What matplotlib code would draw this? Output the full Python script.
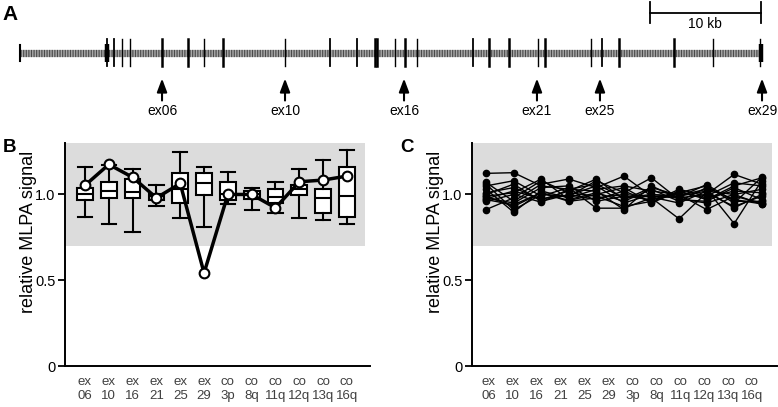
import numpy as np
import matplotlib
matplotlib.use('Agg')
import matplotlib.pyplot as plt

plt.rcParams['font.family'] = ['Liberation Sans', 'DejaVu Sans']

# ---------------- Panel A data (gene structure, kb) ----------------
gene_end_kb = 67.0
exon_kb = [7.86, 8.49, 9.21, 9.94, 12.83, 15.18, 16.62, 18.34, 23.94, 28.0,
           30.44, 32.07, 32.25, 33.88, 34.78, 35.86, 40.92, 42.37, 44.17,
           46.79, 47.43, 51.58, 52.57, 54.11, 59.08, 62.6, 66.85]
exon_lw = [1.3, 1.3, 1.0, 1.0, 1.8, 1.8, 1.0, 1.8, 1.0, 1.3,
           1.3, 1.8, 1.8, 1.0, 1.8, 1.0, 1.3, 1.8, 1.8,
           1.0, 1.8, 1.0, 1.3, 1.8, 1.8, 1.0, 1.0]
block_exon_kb = [7.86, 66.9]
arrow_kb = [12.83, 23.94, 34.69, 46.70, 52.39, 67.03]
arrow_labels = ['ex06', 'ex10', 'ex16', 'ex21', 'ex25', 'ex29']
scale_start_kb = 56.9
scale_len_kb = 10

# ---------------- Panel B / C data ----------------
categories = ['ex\n06', 'ex\n10', 'ex\n16', 'ex\n21', 'ex\n25', 'ex\n29',
              'co\n3p', 'co\n8q', 'co\n11q', 'co\n12q', 'co\n13q', 'co\n16q']
b_whislo = [0.869, 0.828, 0.782, 0.932, 0.864, 0.811, 0.942, 0.912, 0.893, 0.864, 0.850, 0.825]
b_q1     = [0.965, 0.980, 0.980, 0.965, 0.951, 0.994, 0.967, 0.971, 0.951, 0.996, 0.893, 0.869]
b_med    = [1.004, 1.023, 1.016, 0.990, 1.030, 1.064, 1.000, 1.000, 0.984, 1.030, 0.980, 0.990]
b_q3     = [1.039, 1.072, 1.092, 1.004, 1.127, 1.127, 1.074, 1.020, 1.029, 1.058, 1.033, 1.162]
b_whishi = [1.162, 1.170, 1.146, 1.053, 1.250, 1.162, 1.133, 1.039, 1.072, 1.150, 1.200, 1.259]
b_patient = [1.053, 1.175, 1.100, 0.980, 1.064, 0.542, 1.000, 1.000, 0.922, 1.074, 1.084, 1.107]

c_first_pos = -0.12
c_last_pos = 11.41
c_samples = [
    [1.123, 1.127, 1.05, 1.03, 1.06, 0.98, 1.00, 0.99, 1.02, 1.00, 1.03],
    [0.912, 0.98, 1.08, 1.01, 0.99, 0.93, 0.96, 1.01, 1.05, 0.95, 1.10],
    [1.07, 0.96, 1.06, 1.09, 1.04, 1.107, 0.99, 0.98, 1.00, 1.117, 1.06],
    [1.06, 0.91, 1.00, 0.99, 1.08, 1.01, 1.097, 0.97, 0.96, 1.04, 0.97],
    [1.05, 1.08, 0.99, 1.04, 0.92, 0.92, 0.98, 0.858, 1.01, 0.93, 0.99],
    [1.03, 0.897, 1.02, 0.98, 1.03, 1.05, 1.02, 1.00, 0.912, 0.99, 0.95],
    [1.01, 1.04, 0.97, 1.02, 1.09, 0.97, 1.04, 0.995, 1.03, 0.83, 1.08],
    [1.00, 1.06, 0.96, 1.00, 0.97, 1.02, 0.955, 1.03, 0.99, 1.068, 1.05],
    [0.99, 1.01, 1.09, 0.97, 1.01, 0.96, 1.03, 0.96, 1.04, 0.97, 0.945],
    [0.98, 0.95, 1.04, 1.05, 0.96, 0.99, 0.97, 1.015, 0.98, 1.02, 1.01],
    [0.975, 1.02, 0.975, 0.995, 1.05, 0.95, 1.00, 0.985, 1.058, 0.96, 0.96],
    [0.97, 0.94, 1.01, 0.965, 1.00, 1.04, 0.95, 1.02, 0.97, 1.05, 1.097],
    [0.96, 1.00, 0.955, 1.03, 1.02, 0.912, 1.05, 0.975, 0.95, 1.00, 0.942],
    [0.99, 0.93, 1.01, 0.96, 0.98, 1.00, 0.985, 0.95, 1.02, 0.922, 1.00],
]

band_lo, band_hi = 0.7, 1.3
band_color = '#dcdcdc'

W, H = 778, 407
fig = plt.figure(figsize=(W / 100, H / 100), dpi=100)

# ---------------- Panel A ----------------
axA = fig.add_axes([0, (H - 125) / H, 1, 125 / H])
axA.set_xlim(-20 / 11.07, (W - 20) / 11.07)
axA.set_ylim(125, 0)
axA.axis('off')
gy = 52.5
axA.plot([0, gene_end_kb], [gy, gy], color='#a8a8a8', lw=5.2, solid_capstyle='butt', zorder=1)
axA.plot([0, gene_end_kb], [gy, gy], color='#4a4a4a', lw=5.2, linestyle=(0, (0.16, 0.2)),
         dash_capstyle='butt', zorder=2)
axA.plot([0, 0], [45, 61], color='black', lw=1.5, zorder=3)
for x, lw in zip(exon_kb, exon_lw):
    axA.plot([x, x], [38.5, 66], color='black', lw=lw, zorder=3)
for x in block_exon_kb:
    axA.plot([x, x], [44, 62], color='black', lw=3.2, solid_capstyle='butt', zorder=3)
for x, lab in zip(arrow_kb, arrow_labels):
    axA.annotate('', xy=(x, 78.5), xytext=(x, 100.5),
                 arrowprops=dict(arrowstyle='-|>,head_length=0.8,head_width=0.3',
                                 lw=1.5, color='black', mutation_scale=10,
                                 shrinkA=0, shrinkB=0))
    axA.text(x, 111, lab, ha='center', va='center', fontsize=10)
axA.plot([scale_start_kb, scale_start_kb + scale_len_kb], [12.7, 12.7], color='black', lw=1.3)
for x in [scale_start_kb, scale_start_kb + scale_len_kb]:
    axA.plot([x, x], [2, 23], color='black', lw=1.3)
axA.text(scale_start_kb + scale_len_kb / 2, 24.5, '10 kb', ha='center', va='center', fontsize=10)


def style_axis(ax, xlim):
    ax.set_xlim(*xlim)
    ax.set_ylim(0, 1.3)
    ax.axhspan(band_lo, band_hi, xmin=0, xmax=0.984, color=band_color, lw=0, zorder=0)
    for s in ['top', 'right']:
        ax.spines[s].set_visible(False)
    for s in ['left', 'bottom']:
        ax.spines[s].set_linewidth(1.4)
    ax.set_xticks(range(len(categories)))
    ax.set_xticklabels(categories, color='#404040', fontsize=9.5, linespacing=1.25)
    ax.tick_params(axis='x', length=0, pad=7)
    ax.set_yticks([0, 0.5, 1.0])
    ax.set_yticklabels(['0', '0.5', '1.0'])
    ax.tick_params(axis='y', length=5, width=1.3, labelsize=10.5, pad=2)
    ax.set_ylabel('relative MLPA signal', fontsize=13)
    ax.yaxis.set_label_coords(-0.093, 0.6)


# ---------------- Panel B ----------------
axB = fig.add_axes([65 / W, (H - 366) / H, 305 / W, 223 / H])
style_axis(axB, (-0.84, 11.97))
stats = [dict(med=m, q1=a, q3=b, whislo=lo, whishi=hi, fliers=[])
         for m, a, b, lo, hi in zip(b_med, b_q1, b_q3, b_whislo, b_whishi)]
axB.bxp(stats, positions=range(len(categories)), widths=0.66, capwidths=0.6,
        patch_artist=True, showfliers=False,
        boxprops=dict(facecolor='white', edgecolor='black', linewidth=1.5),
        medianprops=dict(color='black', linewidth=1.5),
        whiskerprops=dict(color='black', linewidth=1.5),
        capprops=dict(color='black', linewidth=1.5), manage_ticks=False)
axB.plot(range(len(categories)), b_patient, '-o', color='black', lw=2.5,
         mfc='white', mec='black', mew=1.5, ms=7, zorder=5)

# ---------------- Panel C ----------------
axC = fig.add_axes([472 / W, (H - 366) / H, 305 / W, 223 / H])
style_axis(axC, (-0.71, 12.05))
c_pos = np.linspace(c_first_pos, c_last_pos, len(c_samples[0]))
for row in c_samples:
    axC.plot(c_pos, row, '-o', color='black', lw=1.0, ms=4.5, zorder=3)

# ---------------- Panel letters ----------------
fig.text(2 / W, 1 - 5 / H, 'A', fontsize=15, fontweight='bold', va='top', ha='left')
fig.text(3 / W, 1 - 139 / H, 'B', fontsize=13.5, fontweight='bold', va='top', ha='left')
fig.text(400 / W, 1 - 139 / H, 'C', fontsize=13.5, fontweight='bold', va='top', ha='left')

fig.savefig('out.png', dpi=100)
